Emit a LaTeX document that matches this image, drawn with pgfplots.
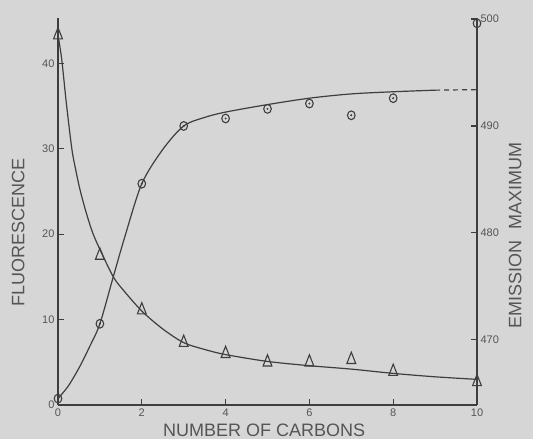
\documentclass[border=0pt]{standalone}
\usepackage{fontspec}
\setmainfont{Liberation Sans}
\usepackage{pgfplots}
\pgfplotsset{compat=1.18}
\definecolor{bg}{RGB}{214,214,214}
\definecolor{ink}{RGB}{62,62,62}
\definecolor{txt}{RGB}{85,85,85}
\begin{document}
\begin{tikzpicture}
\fill[bg] (-58pt,-34pt) rectangle (475pt,405pt);
\useasboundingbox (-58pt,-34pt) rectangle (475pt,405pt);
\begin{axis}[
  scale only axis, width=419pt, height=387pt,
  xmin=0, xmax=10, ymin=0, ymax=45.3,
  axis x line*=bottom, axis y line*=left,
  axis line style={ink, line width=1.5pt, -},
  xtick={0,2,4,6,8,10}, ytick={0,10,20,30,40},
  tick align=inside, major tick length=6pt,
  tick style={ink, line width=1.2pt},
  tick label style={font=\fontsize{11}{12}\selectfont, text=txt},
  /pgf/number format/assume math mode=true,
  xlabel={NUMBER OF CARBONS}, ylabel={FLUORESCENCE},
  label style={font=\fontsize{18}{20}\selectfont, text=txt},
  xlabel style={at={(axis description cs:0.492,-0.065)}, anchor=center},
  ylabel style={at={(axis description cs:-0.095,0.445)}, anchor=center},
  clip=false,
]
\addplot[ink, line width=1.2pt, smooth, tension=0.5] coordinates {
 (0,43.3) (0.05,41.8) (0.1,40) (0.2,35.3) (0.33,30) (0.42,27.6) (0.525,25.2)
 (0.68,22.4) (0.84,20) (1.03,17.9) (1.32,15.0) (1.55,13.5) (2,11.0) (2.5,8.9)
 (3,7.3) (3.5,6.5) (4,5.9) (5,5.1) (6,4.6) (7,4.2) (8,3.7) (9,3.3) (10,3.0)};
\addplot[only marks, ink, line width=1.1pt, mark=triangle, mark size=7.5pt,
  mark options={xscale=0.68, solid, fill=none}] coordinates {
 (0,43.3) (1,17.5) (2,11.1) (3,7.3) (4,6.0) (5,5.0) (6,5.0) (7,5.3) (8,3.9) (10,2.7)};
\end{axis}
\begin{axis}[
  scale only axis, width=419pt, height=387pt,
  xmin=0, xmax=10, ymin=463.9, ymax=500.1,
  axis x line=none, axis y line*=right,
  axis line style={ink, line width=1.5pt, -},
  ytick={470,480,490,500},
  tick align=inside, major tick length=6pt,
  tick style={ink, line width=1.2pt},
  tick label style={font=\fontsize{11}{12}\selectfont, text=txt},
  /pgf/number format/assume math mode=true,
  ylabel={EMISSION\hspace{0.6em}MAXIMUM},
  label style={font=\fontsize{18}{20}\selectfont, text=txt},
  ylabel style={at={(axis description cs:1.091,0.438)}, anchor=center},
  clip=false,
]
\addplot[ink, line width=1.2pt, smooth, tension=0.5] coordinates {
 (0,464.5) (0.25,465.7) (0.52,467.5) (0.76,469.4) (1,471.5) (1.32,475.9)
 (1.6,479.7) (2,484.6) (2.5,487.8) (3,490.0) (3.5,490.8) (4,491.3) (5,492.0)
 (6,492.6) (7,493.0) (8,493.2) (9,493.35)};
\addplot[ink, line width=1.2pt, dash pattern=on 5pt off 4pt] coordinates {
 (9,493.35) (10,493.4)};
\addplot[only marks, ink, line width=1.1pt, mark=o, mark size=3.8pt,
  mark options={yscale=1.15, fill=bg}] coordinates {
 (0,464.5) (1,471.5) (2,484.6) (3,490.0) (4,490.7) (5,491.6) (6,492.1) (7,491.0) (8,492.6) (10,499.6)};
\addplot[only marks, ink, mark=*, mark size=0.8pt] coordinates {
 (0,464.5) (1,471.5) (2,484.6) (3,490.0) (4,490.7) (5,491.6) (6,492.1) (7,491.0) (8,492.6) (10,499.6)};
\end{axis}
\end{tikzpicture}
\end{document}
